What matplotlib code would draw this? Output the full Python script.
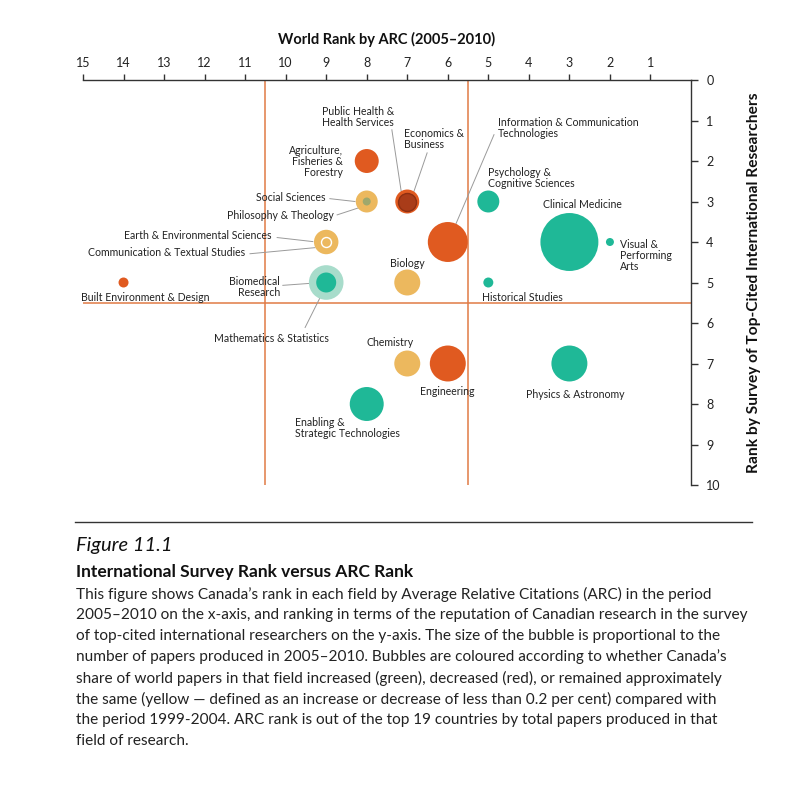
import matplotlib
matplotlib.use("Agg")
import matplotlib.pyplot as plt

plt.rcParams['font.family'] = ['Lato', 'DejaVu Sans']

# fields, Canada's ARC rank (x), survey rank (y), change in share of world papers
fields = ['Built Environment & Design', 'Agriculture, Fisheries & Forestry',
          'Social Sciences', 'Philosophy & Theology',
          'Earth & Environmental Sciences', 'Communication & Textual Studies',
          'Biomedical Research', 'Mathematics & Statistics',
          'Public Health & Health Services', 'Economics & Business',
          'Biology', 'Information & Communication Technologies',
          'Psychology & Cognitive Sciences', 'Clinical Medicine',
          'Visual & Performing Arts', 'Historical Studies',
          'Chemistry', 'Engineering', 'Physics & Astronomy',
          'Enabling & Strategic Technologies']
arc_rank = [14, 8, 8, 8, 9, 9, 9, 9, 7, 7, 7, 6, 5, 3, 2, 5, 7, 6, 3, 8]
survey_rank = [5, 2, 3, 3, 4, 4, 5, 5, 3, 3, 5, 4, 3, 4, 4, 5, 7, 7, 7, 8]
share_change = ['decrease', 'decrease', 'same', 'increase', 'same', 'same',
                'increase', 'increase', 'decrease', 'decrease', 'same', 'decrease',
                'increase', 'increase', 'increase', 'increase', 'same', 'decrease',
                'increase', 'increase']
# relative number of papers 2005-2010 (bubble area)
papers = [25, 144, 121, 16, 150, 25, 300, 100, 144, 81, 169, 400, 121, 841,
          16, 25, 169, 324, 324, 289]

colours = {'increase': '#1fb897', 'decrease': '#e05a20', 'same': '#ecb85e'}
# overlapping bubbles get a shaded tone
overlap_colour = {'Philosophy & Theology': '#9fa86c',
                  'Biomedical Research': '#a8dccb',
                  'Economics & Business': '#a93c19'}
overlap_edge = {'Communication & Textual Studies': 'white',
                'Economics & Business': '#8e2f12'}

# label layout: text x, text y, ha, text, leader line (x0, y0, x1, y1) or None
layout = {
    'Built Environment & Design': (13.47, 5.37, 'center', 'Built Environment & Design', None),
    'Agriculture, Fisheries & Forestry': (8.59, 2.02, 'right', 'Agriculture,\nFisheries &\nForestry', None),
    'Social Sciences': (9.01, 2.91, 'right', 'Social Sciences', (8.91, 2.93, 8.29, 3.0)),
    'Philosophy & Theology': (8.81, 3.35, 'right', 'Philosophy & Theology', (8.73, 3.33, 8.12, 3.13)),
    'Earth & Environmental Sciences': (10.34, 3.84, 'right', 'Earth & Environmental Sciences', (10.21, 3.89, 9.33, 3.99)),
    'Communication & Textual Studies': (11.0, 4.26, 'right', 'Communication & Textual Studies', (10.88, 4.29, 9.28, 4.14)),
    'Biomedical Research': (10.14, 5.1, 'right', 'Biomedical\nResearch', (10.07, 5.07, 9.38, 5.02)),
    'Mathematics & Statistics': (10.34, 6.38, 'center', 'Mathematics & Statistics', (9.52, 6.11, 9.15, 5.37)),
    'Public Health & Health Services': (9.10, 0.91, 'left', 'Public Health &\nHealth Services', (7.38, 1.23, 7.13, 2.88)),
    'Economics & Business': (7.08, 1.45, 'left', 'Economics &\nBusiness', (6.51, 1.80, 6.88, 2.88)),
    'Biology': (7.0, 4.53, 'center', 'Biology', None),
    'Information & Communication Technologies': (4.76, 1.18, 'left', 'Information & Communication\nTechnologies', (4.86, 1.35, 5.82, 3.6)),
    'Psychology & Cognitive Sciences': (5.01, 2.41, 'left', 'Psychology &\nCognitive Sciences', None),
    'Clinical Medicine': (2.69, 3.08, 'center', 'Clinical Medicine', None),
    'Visual & Performing Arts': (1.75, 4.33, 'left', 'Visual &\nPerforming\nArts', None),
    'Historical Studies': (5.16, 5.37, 'left', 'Historical Studies', None),
    'Chemistry': (7.43, 6.48, 'center', 'Chemistry', None),
    'Engineering': (6.02, 7.68, 'center', 'Engineering', None),
    'Physics & Astronomy': (2.86, 7.76, 'center', 'Physics & Astronomy', None),
    'Enabling & Strategic Technologies': (9.77, 8.6, 'left', 'Enabling &\nStrategic Technologies', None),
}

caption_lines = [
    "This figure shows Canada\u2019s rank in each field by Average Relative Citations (ARC) in the period",
    "2005\u20132010 on the x-axis, and ranking in terms of the reputation of Canadian research in the survey",
    "of top-cited international researchers on the y-axis. The size of the bubble is proportional to the",
    "number of papers produced in 2005\u20132010. Bubbles are coloured according to whether Canada\u2019s",
    "share of world papers in that field increased (green), decreased (red), or remained approximately",
    "the same (yellow \u2014 defined as an increase or decrease of less than 0.2 per cent) compared with",
    "the period 1999-2004. ARC rank is out of the top 19 countries by total papers produced in that",
    "field of research.",
]

fig = plt.figure(figsize=(8.06, 8.0), dpi=100)
ax = fig.add_axes([83 / 806, 315 / 800, 608 / 806, 405 / 800])
ax.set_xlim(15, 0)
ax.set_ylim(10, 0)

ax.axvline(10.5, color='#e07a45', lw=1.1, zorder=1)
ax.axvline(5.5, color='#e07a45', lw=1.1, zorder=1)
ax.axhline(5.5, color='#e07a45', lw=1.1, zorder=1)

order = sorted(range(len(fields)), key=lambda i: -papers[i])
for i in order:
    f = fields[i]
    c = overlap_colour.get(f, colours[share_change[i]])
    ec = overlap_edge.get(f, 'none')
    ax.scatter(arc_rank[i], survey_rank[i], s=papers[i] * 2.07, color=c,
               edgecolors=ec, linewidths=1.0, zorder=3)

for f in fields:
    tx, ty, ha, txt, leader = layout[f]
    ax.text(tx, ty, txt, ha=ha, va='center', multialignment=ha,
            fontsize=7.6, color='#222222', linespacing=1.0, zorder=5)
    if leader is not None:
        ax.plot([leader[0], leader[2]], [leader[1], leader[3]], color='#9a9a9a',
                lw=0.7, zorder=2)

# axes on top and right
for s in ['left', 'bottom']:
    ax.spines[s].set_visible(False)
for s in ['top', 'right']:
    ax.spines[s].set_color('#333333')
    ax.spines[s].set_linewidth(1.0)
ax.xaxis.tick_top()
ax.yaxis.tick_right()
ax.set_xticks(range(1, 16))
ax.set_yticks(range(0, 11))
ax.tick_params(axis='x', direction='out', length=4, width=1, color='#333333',
               labelsize=9, pad=4, labelcolor='#222222')
ax.tick_params(axis='y', direction='out', length=5, width=1, color='#333333',
               labelsize=9, pad=6, labelcolor='#222222')
ax.set_xlabel('World Rank by ARC (2005\u20132010)', fontsize=10.5, fontweight='bold',
              labelpad=9, color='#111111')
ax.xaxis.set_label_position('top')
ax.set_ylabel('Rank by Survey of Top-Cited International Researchers', fontsize=11.2,
              fontweight='bold', labelpad=19, color='#111111')
ax.yaxis.set_label_position('right')

# caption
fig.add_artist(plt.Line2D([75 / 806, 752 / 806], [1 - 522 / 800, 1 - 522 / 800],
                          color='#333333', lw=1.0))
fig.text(76 / 806, 1 - 546 / 800, 'Figure 11.1', fontsize=14.5, style='italic',
         va='center', color='#111111')
fig.text(76 / 806, 1 - 572 / 800, 'International Survey Rank versus ARC Rank',
         fontsize=12.5, fontweight='bold', va='center', color='#111111')
for k, line in enumerate(caption_lines):
    fig.text(76 / 806, 1 - (594 + 21 * k) / 800, line, fontsize=11.1, va='center',
             color='#222222')

fig.savefig('out.png', dpi=100)
